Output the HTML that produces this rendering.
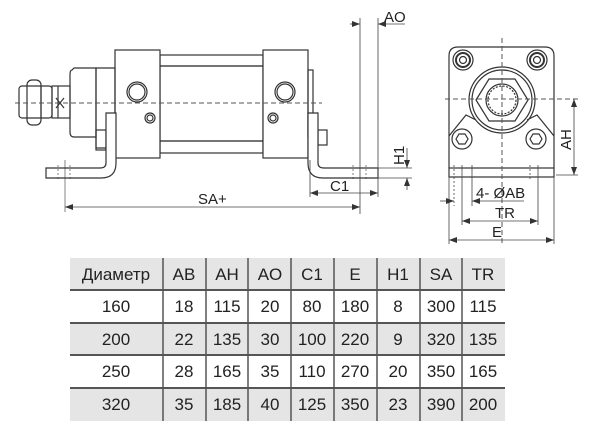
<!DOCTYPE html>
<html><head><meta charset="utf-8"><style>
html,body{margin:0;padding:0;background:#fff;}
body{width:600px;height:430px;position:relative;overflow:hidden;font-family:"Liberation Sans","DejaVu Sans",sans-serif;}
svg{position:absolute;left:0;top:0;}
</style></head><body>
<svg width="600" height="430" viewBox="0 0 600 430" xmlns="http://www.w3.org/2000/svg" font-family="Liberation Sans, DejaVu Sans, sans-serif">
<defs>
<marker id="ar" markerWidth="8" markerHeight="6" refX="8" refY="3" orient="auto" markerUnits="userSpaceOnUse"><path d="M0,0 L8,3 L0,6 z" fill="#333"/></marker>
</defs>
<g fill="none" stroke="#333" stroke-width="1.2">
<rect x="160" y="55" width="103" height="11"/>
<rect x="160" y="66" width="103" height="75"/>
<rect x="160" y="141" width="103" height="12"/>
<rect x="115" y="50" width="45" height="108" fill="#fff"/>
<rect x="263" y="50" width="45" height="108" fill="#fff"/>
<path d="M96,68 H115 V148 H96 Z"/>
<path d="M72,70 Q70,70 70,75 V132 Q70,137 74,137 H96 V68 H74 Z"/>
<rect x="52" y="86" width="18" height="32"/>
<line x1="58" y1="86" x2="58" y2="118"/>
<path d="M56,98 L64,108 M64,98 L56,108"/>
<rect x="27" y="80" width="14" height="45" rx="5"/>
<rect x="19" y="86" width="33" height="32" rx="3"/>
<line x1="41" y1="86" x2="41" y2="118"/>
<circle cx="137" cy="92" r="10"/><circle cx="137" cy="92" r="8"/>
<circle cx="285" cy="92" r="10"/><circle cx="285" cy="92" r="8"/>
<circle cx="150" cy="118" r="5"/><circle cx="150" cy="118" r="3"/>
<circle cx="273" cy="118" r="5"/><circle cx="273" cy="118" r="3"/>
<rect x="96" y="130" width="10" height="20"/>
<path d="M106,113 H116 V163 Q116,178 101,178 H46 V168 H100 Q106,168 106,163 Z" fill="#fff"/>
<rect x="308" y="70" width="5" height="67"/>
<rect x="318" y="130" width="9" height="15"/>
<path d="M308,113 H318 V163 Q318,168 324,168 H378 V178 H323 Q308,178 308,163 Z" fill="#fff"/>
<line x1="58" y1="165" x2="58" y2="181" stroke-width="0.6" stroke-dasharray="2,2"/>
<line x1="65" y1="160" x2="65" y2="212" stroke-width="0.6"/>
<line x1="70" y1="165" x2="70" y2="181" stroke-width="0.6" stroke-dasharray="2,2"/>
<line x1="353" y1="165" x2="353" y2="181" stroke-width="0.6" stroke-dasharray="2,2"/>
<line x1="366" y1="165" x2="366" y2="181" stroke-width="0.6" stroke-dasharray="2,2"/>
</g>
<line x1="15" y1="103" x2="322" y2="103" stroke="#555" stroke-width="1" stroke-dasharray="5,3"/>
<g stroke="#444" stroke-width="0.8" fill="none">
<line x1="360" y1="18" x2="360" y2="214"/>
<line x1="378" y1="18" x2="378" y2="197"/>
<line x1="350" y1="24" x2="360" y2="24" marker-end="url(#ar)"/>
<line x1="405" y1="24" x2="378" y2="24" marker-end="url(#ar)"/>
<line x1="310" y1="160" x2="310" y2="197"/>
<line x1="344" y1="193" x2="310" y2="193" marker-end="url(#ar)"/>
<line x1="344" y1="193" x2="378" y2="193" marker-end="url(#ar)"/>
<line x1="212" y1="207" x2="65" y2="207" marker-end="url(#ar)"/>
<line x1="212" y1="207" x2="360" y2="207" marker-end="url(#ar)"/>
<line x1="378" y1="168" x2="412" y2="168"/>
<line x1="378" y1="178" x2="412" y2="178"/>
<line x1="407" y1="148" x2="407" y2="168" marker-end="url(#ar)"/>
<line x1="407" y1="190" x2="407" y2="178" marker-end="url(#ar)"/>
</g>
<g fill="#222" font-size="15">
<text x="384" y="22">AO</text>
<text x="330" y="191">C1</text>
<text x="198" y="204">SA+</text>
<text transform="translate(404,165) rotate(-90)">H1</text>
</g>
<g fill="none" stroke="#333" stroke-width="1.2">
<path d="M449,168 V56 Q449,47 458,47 H545 Q554,47 554,56 V168"/>
<rect x="449" y="168" width="105" height="9"/>
<path d="M449,136 L466,115 L476,120 M554,136 L537,115 L527,120"/>
<circle cx="463" cy="60" r="10"/><circle cx="463" cy="60" r="7" stroke-width="2"/><circle cx="463" cy="60" r="3.5"/>
<circle cx="537" cy="60" r="10"/><circle cx="537" cy="60" r="7" stroke-width="2"/><circle cx="537" cy="60" r="3.5"/>
<circle cx="502" cy="100" r="33"/><circle cx="502" cy="100" r="30"/>
<path d="M476,100 L489,79 H515 L528,100 L515,121 H489 Z"/>
<circle cx="502" cy="100" r="16"/><circle cx="502" cy="100" r="14" stroke-dasharray="2,1.5"/>
<circle cx="462" cy="139" r="10"/><path d="M456,139 L459,134 H465 L468,139 L465,144 H459 Z"/>
<circle cx="536" cy="139" r="10"/><path d="M530,139 L533,134 H539 L542,139 L539,144 H533 Z"/>
</g>
<g stroke="#555" stroke-width="1" stroke-dasharray="5,3">
<line x1="502" y1="38" x2="502" y2="245"/>
<line x1="445" y1="99" x2="580" y2="99"/>
</g>
<g stroke="#444" stroke-width="0.8" fill="none">
<line x1="454" y1="165" x2="454" y2="206" stroke-dasharray="2,2"/>
<line x1="462" y1="165" x2="462" y2="225"/>
<line x1="472" y1="165" x2="472" y2="206"/>
<line x1="530" y1="165" x2="530" y2="180" stroke-dasharray="2,2"/>
<line x1="538" y1="165" x2="538" y2="225"/>
<line x1="449" y1="177" x2="449" y2="244"/>
<line x1="554" y1="177" x2="554" y2="244"/>
<line x1="440" y1="201" x2="454" y2="201" marker-end="url(#ar)"/>
<line x1="524" y1="201" x2="472" y2="201" marker-end="url(#ar)"/>
<line x1="500" y1="221" x2="462" y2="221" marker-end="url(#ar)"/>
<line x1="500" y1="221" x2="538" y2="221" marker-end="url(#ar)"/>
<line x1="500" y1="240" x2="449" y2="240" marker-end="url(#ar)"/>
<line x1="500" y1="240" x2="554" y2="240" marker-end="url(#ar)"/>
<line x1="574" y1="140" x2="574" y2="99" marker-end="url(#ar)"/>
<line x1="574" y1="140" x2="574" y2="175" marker-end="url(#ar)"/>
<line x1="556" y1="175" x2="578" y2="175"/>
</g>
<g fill="#222" font-size="15">
<text x="476" y="198">4- ØAB</text>
<text x="495" y="218">TR</text>
<text x="492" y="237">E</text>
<text transform="translate(571,150) rotate(-90)">AH</text>
</g>
<rect x="70" y="258" width="435" height="32" fill="#e5e5e5"/>
<rect x="70" y="323" width="435" height="32" fill="#e5e5e5"/>
<rect x="70" y="388" width="435" height="33" fill="#e5e5e5"/>
<g stroke="#555" stroke-width="2">
<line x1="70" y1="290" x2="505" y2="290"/>
<line x1="70" y1="323" x2="505" y2="323"/>
<line x1="70" y1="355" x2="505" y2="355"/>
<line x1="70" y1="388" x2="505" y2="388"/>
</g>
<g stroke="#555" stroke-width="1.5">
<line x1="163" y1="258" x2="163" y2="421"/>
<line x1="206" y1="258" x2="206" y2="421"/>
<line x1="248" y1="258" x2="248" y2="421"/>
<line x1="291" y1="258" x2="291" y2="421"/>
<line x1="334" y1="258" x2="334" y2="421"/>
<line x1="377" y1="258" x2="377" y2="421"/>
<line x1="420" y1="258" x2="420" y2="421"/>
<line x1="462" y1="258" x2="462" y2="421"/>
</g>
<g fill="#222" font-size="17" text-anchor="middle">
<text x="116" y="280">Диаметр</text><text x="184" y="280">AB</text><text x="227" y="280">AH</text><text x="270" y="280">AO</text><text x="312" y="280">C1</text><text x="355" y="280">E</text><text x="398" y="280">H1</text><text x="441" y="280">SA</text><text x="483" y="280">TR</text>
<text x="116" y="312">160</text><text x="184" y="312">18</text><text x="227" y="312">115</text><text x="270" y="312">20</text><text x="312" y="312">80</text><text x="355" y="312">180</text><text x="398" y="312">8</text><text x="441" y="312">300</text><text x="483" y="312">115</text>
<text x="116" y="345">200</text><text x="184" y="345">22</text><text x="227" y="345">135</text><text x="270" y="345">30</text><text x="312" y="345">100</text><text x="355" y="345">220</text><text x="398" y="345">9</text><text x="441" y="345">320</text><text x="483" y="345">135</text>
<text x="116" y="377">250</text><text x="184" y="377">28</text><text x="227" y="377">165</text><text x="270" y="377">35</text><text x="312" y="377">110</text><text x="355" y="377">270</text><text x="398" y="377">20</text><text x="441" y="377">350</text><text x="483" y="377">165</text>
<text x="116" y="410">320</text><text x="184" y="410">35</text><text x="227" y="410">185</text><text x="270" y="410">40</text><text x="312" y="410">125</text><text x="355" y="410">350</text><text x="398" y="410">23</text><text x="441" y="410">390</text><text x="483" y="410">200</text>
</g>
</svg>
</body></html>
